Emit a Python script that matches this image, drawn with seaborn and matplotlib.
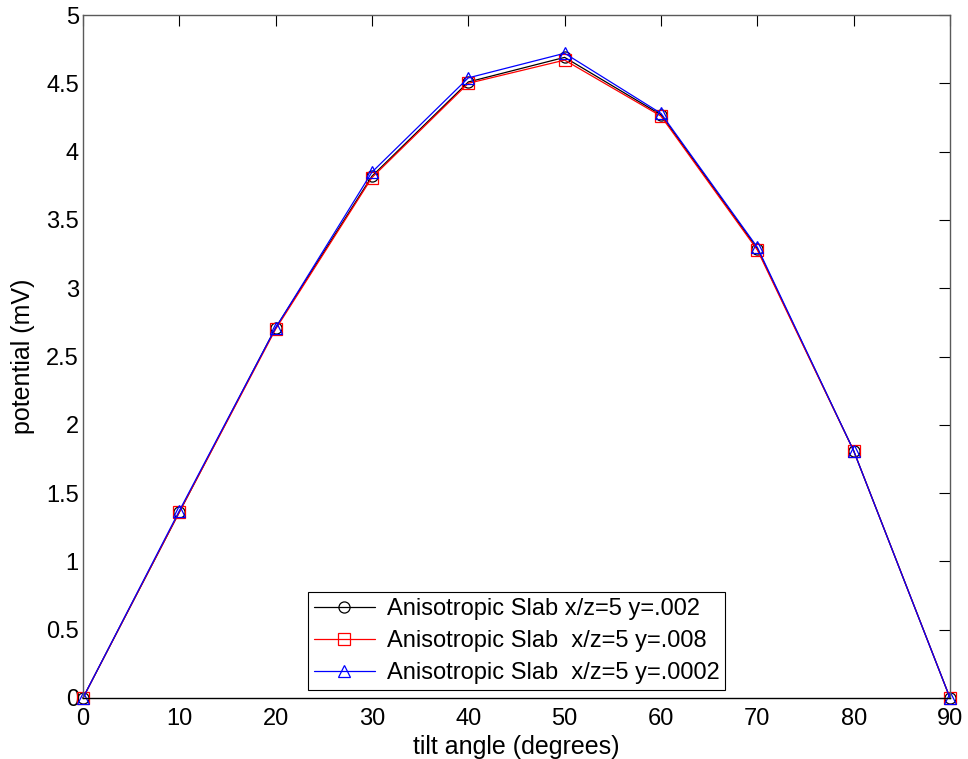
import matplotlib
matplotlib.use("Agg")
import matplotlib.pyplot as plt
import seaborn as sns
import pandas as pd

# Tilt angle in degrees and computed potential (mV) for three slab configurations
angles = [0, 10, 20, 30, 40, 50, 60, 70, 80, 90]
pot_y002 = [0.0, 1.36, 2.71, 3.82, 4.51, 4.69, 4.27, 3.29, 1.81, 0.0]
pot_y008 = [0.0, 1.36, 2.70, 3.81, 4.50, 4.67, 4.26, 3.28, 1.81, 0.0]
pot_y0002 = [0.0, 1.37, 2.71, 3.85, 4.54, 4.72, 4.28, 3.30, 1.81, 0.0]

labels = [
    "Anisotropic Slab x/z=5 y=.002",
    "Anisotropic Slab  x/z=5 y=.008",
    "Anisotropic Slab  x/z=5 y=.0002",
]
x_ticks = [0, 10, 20, 30, 40, 50, 60, 70, 80, 90]
y_ticks = [0, 0.5, 1, 1.5, 2, 2.5, 3, 3.5, 4, 4.5, 5]
y_tick_labels = ["0", "0.5", "1", "1.5", "2", "2.5", "3", "3.5", "4", "4.5", "5"]

sns.set_style("white")
plt.rcParams["font.family"] = ["Liberation Sans", "DejaVu Sans"]
plt.rcParams["text.color"] = "black"
plt.rcParams["axes.labelcolor"] = "black"

fig = plt.figure(figsize=(9.68, 7.59), dpi=100)
ax = fig.add_axes([0.0857, 0.0804, 0.8957, 0.8998])

series = [
    (pot_y002, "black", "o"),
    (pot_y008, "red", "s"),
    (pot_y0002, "blue", "^"),
]
for (vals, col, mk), lab in zip(series, labels):
    df = pd.DataFrame({"angle": angles, "potential": vals})
    sns.lineplot(
        data=df, x="angle", y="potential", ax=ax, color=col, marker=mk,
        markersize=8, markerfacecolor="none", markeredgecolor=col,
        markeredgewidth=0.9, linewidth=0.9, label=lab, clip_on=False,
    )

ax.set_xlim(0, 90)
ax.set_ylim(0, 5)
ax.set_xticks(x_ticks)
ax.set_yticks(y_ticks)
ax.set_yticklabels(y_tick_labels)
ax.tick_params(direction="in", length=8, width=0.8, top=True, right=True,
               labelsize=17, colors="black")
ax.tick_params(axis="x", pad=7)
ax.tick_params(axis="y", pad=3)
for side in ["left", "right", "top"]:
    ax.spines[side].set_color("#5a5a5a")
    ax.spines[side].set_linewidth(1.0)
ax.spines["bottom"].set_color("black")
ax.spines["bottom"].set_linewidth(1.0)

ax.set_xlabel("tilt angle (degrees)", fontsize=18, labelpad=4, color="black")
ax.set_ylabel("potential (mV)", fontsize=18, labelpad=8, color="black")

leg = ax.legend(loc="lower center", bbox_to_anchor=(0.5, 0.012), fontsize=17,
                frameon=True, fancybox=False, shadow=False, framealpha=1,
                handlelength=2.6, borderpad=0.25, labelspacing=0.42,
                handletextpad=0.5, borderaxespad=0, labelcolor="black")
leg.get_frame().set_edgecolor("black")
leg.get_frame().set_linewidth(0.8)

fig.savefig("out.png", dpi=100)
